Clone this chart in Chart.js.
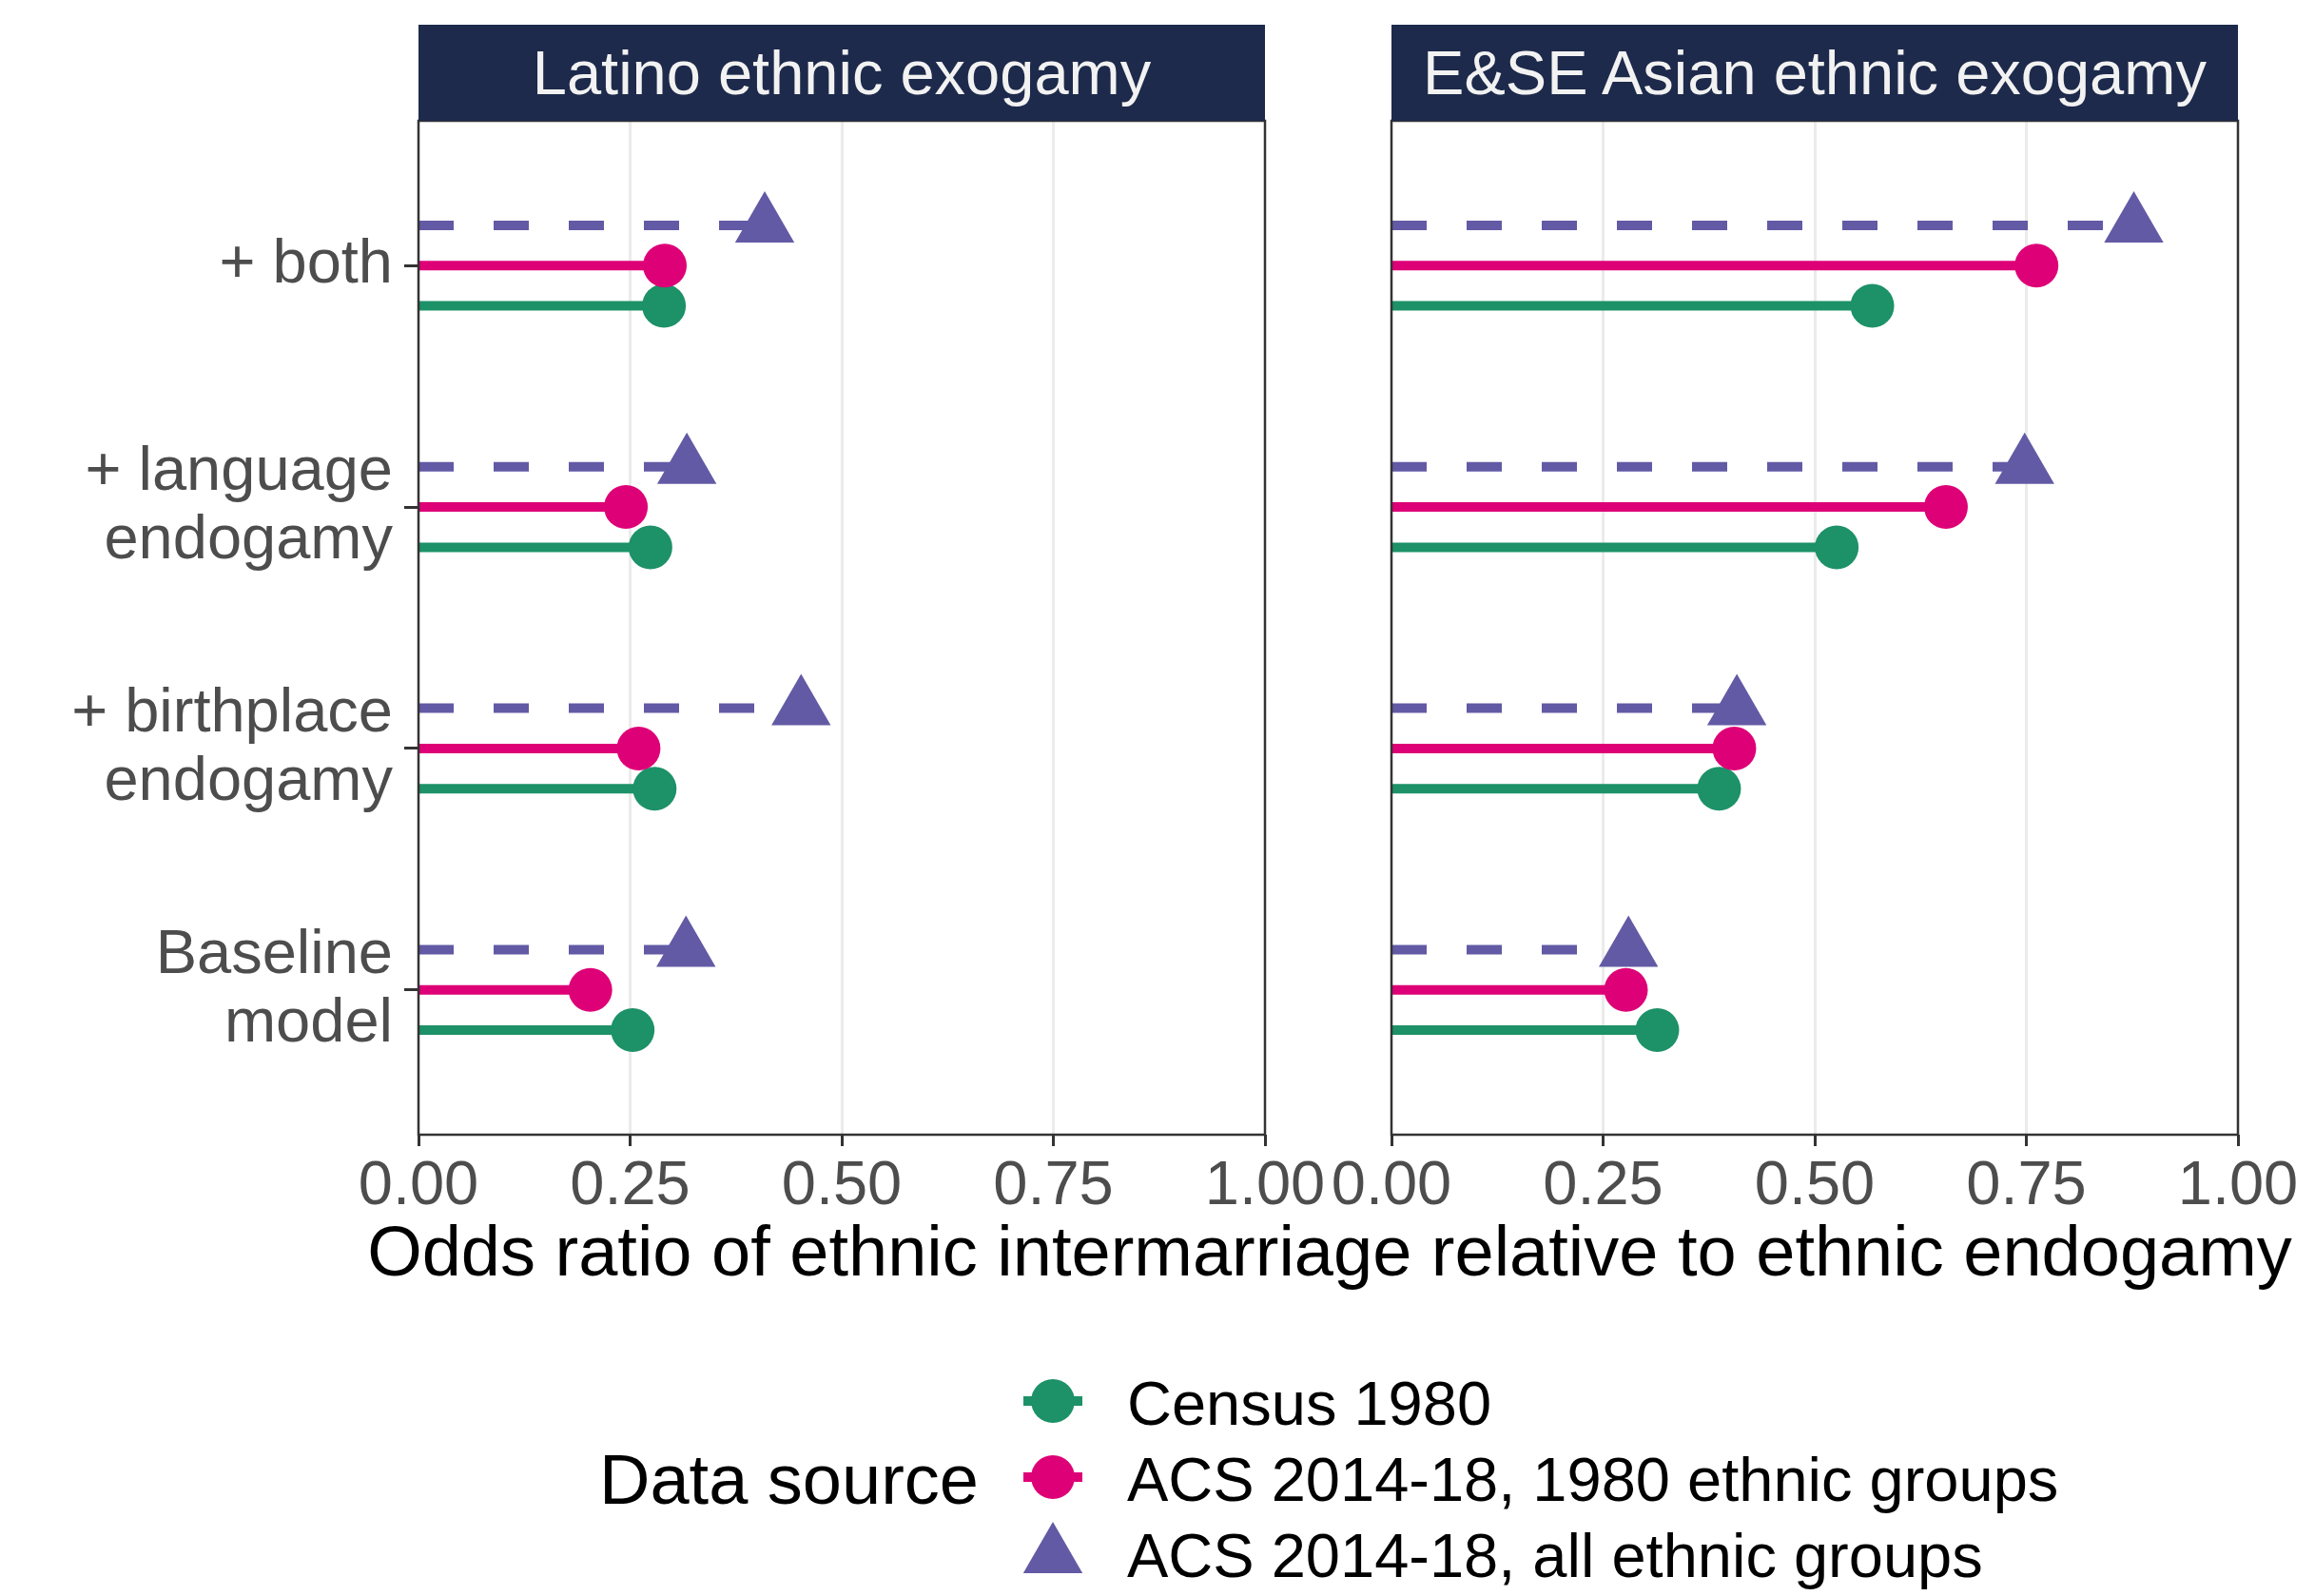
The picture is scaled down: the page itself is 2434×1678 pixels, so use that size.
<!DOCTYPE html>
<html>
<head>
<meta charset="utf-8">
<script src="https://cdn.jsdelivr.net/npm/chart.js@4.4.1/dist/chart.umd.min.js"></script>
<style>
  html, body { margin:0; padding:0; background:#ffffff; }
  body { width:2434px; height:1678px; position:relative; overflow:hidden; font-family:"Liberation Sans", Arial, Helvetica, sans-serif; }
  canvas { position:absolute; }
  .strip { position:absolute; top:26px; height:101px; background:#1d2a4b; color:#f2f2f2; font-size:65px; line-height:1; text-align:center; }
  .strip span { position:absolute; left:0; right:0; top:18px; }
  .txt { position:absolute; line-height:1; white-space:nowrap; color:#000; }
</style>
</head>
<body>
<canvas id="cA" width="1400" height="1313" style="left:0px;top:0px;width:1400px;height:1313px"></canvas>
<canvas id="cB" width="1035" height="1313" style="left:1388px;top:0px;width:1035px;height:1313px"></canvas>
<div class="strip" id="s0" style="left:440px;width:890px"><span></span></div>
<div class="strip" id="s1" style="left:1463px;width:890px"><span></span></div>
<div class="txt" id="xtitle" style="left:0;width:2796px;top:1279px;font-size:74px;text-align:center;"></div>
<div class="txt" id="lgTitle" style="left:630px;top:1519px;font-size:74px;"></div>
<div id="legend"></div>
<script>
// ---- data ----
const categories = ['Baseline model', '+ birthplace endogamy', '+ language endogamy', '+ both'];
const categoryLabels = [['Baseline', 'model'], ['+ birthplace', 'endogamy'], ['+ language', 'endogamy'], ['+ both']];
const facetTitles = ['Latino ethnic exogamy', 'E&SE Asian ethnic exogamy'];
const seriesNames = ['Census 1980', 'ACS 2014-18, 1980 ethnic groups', 'ACS 2014-18, all ethnic groups'];
// values in category order: Baseline, birthplace, language, both
const latinoCensus1980 = [0.253, 0.279, 0.274, 0.290];
const latinoAcs1980    = [0.203, 0.260, 0.245, 0.291];
const latinoAcsAll     = [0.316, 0.452, 0.317, 0.409];
const asianCensus1980  = [0.314, 0.387, 0.526, 0.568];
const asianAcs1980     = [0.277, 0.405, 0.655, 0.762];
const asianAcsAll      = [0.280, 0.408, 0.748, 0.877];
const xTickValues = [0, 0.25, 0.5, 0.75, 1];
const xTickLabels = ['0.00', '0.25', '0.50', '0.75', '1.00'];
const xAxisTitle = 'Odds ratio of ethnic intermarriage relative to ethnic endogamy';
const legendTitle = 'Data source';

// ---- styles ----
const seriesColors = ['#1d9168', '#de0077', '#625aa5'];
const seriesShapes = ['circle', 'circle', 'triangle'];
const seriesRadius = [23, 23, 36];
const seriesDash = [[], [], [37, 42]];
const dodge = [-1 / 6, 0, 1 / 6];
const FONT = '"Liberation Sans", Arial, Helvetica, sans-serif';

function segData(vals, off) {
  const d = [];
  vals.forEach((v, i) => {
    d.push({x: 0, y: i + 1 + off}, {x: v, y: i + 1 + off}, {x: null, y: null});
  });
  return d;
}

function makeDatasets(seriesVals) {
  return seriesVals.map((vals, s) => ({
    type: 'line',
    label: seriesNames[s],
    data: segData(vals, dodge[s]),
    borderColor: seriesColors[s],
    borderWidth: 10,
    borderDash: seriesDash[s],
    borderCapStyle: 'butt',
    spanGaps: false,
    fill: false,
    tension: 0,
    pointStyle: seriesShapes[s],
    pointRadius: (ctx) => (ctx.raw && ctx.raw.x > 0) ? seriesRadius[s] : 0,
    pointHoverRadius: 0,
    pointBackgroundColor: seriesColors[s],
    pointBorderColor: seriesColors[s],
    pointBorderWidth: 0,
    order: s === 0 ? 2 : (s === 1 ? 1 : 0)
  }));
}

const panelBorder = {
  id: 'panelBorder',
  afterDraw(chart) {
    const {ctx, chartArea: a} = chart;
    ctx.save();
    ctx.strokeStyle = '#333333';
    ctx.lineWidth = 2.5;
    ctx.strokeRect(a.left, a.top, a.right - a.left, a.bottom - a.top);
    ctx.restore();
  }
};

function xScale() {
  return {
    type: 'linear',
    min: 0, max: 1,
    afterBuildTicks: (scale) => { scale.ticks = xTickValues.map(v => ({value: v})); },
    afterFit: (scale) => { scale.height = 120; },
    ticks: {
      callback: (v) => xTickLabels[xTickValues.indexOf(v)],
      color: '#4d4d4d',
      font: {family: FONT, size: 65},
      padding: 4,
      maxRotation: 0, autoSkip: false
    },
    grid: {
      color: (ctx) => (ctx.tick && (ctx.tick.value === 0 || ctx.tick.value === 1)) ? 'rgba(0,0,0,0)' : '#ebebeb',
      lineWidth: 3,
      drawTicks: true,
      tickLength: 12,
      tickColor: '#333333',
      tickWidth: 3
    },
    border: {display: false}
  };
}

function yScale(showLabels) {
  return {
    type: 'linear',
    min: 0.4, max: 4.6,
    display: showLabels,
    afterBuildTicks: (scale) => { scale.ticks = categories.map((c, i) => ({value: i + 1})); },
    afterFit: (scale) => { if (showLabels) scale.width = 440; },
    ticks: {
      callback: (v) => categoryLabels[v - 1],
      color: '#4d4d4d',
      font: {family: FONT, size: 65, lineHeight: 1.11},
      padding: 12,
      autoSkip: false
    },
    grid: {
      drawOnChartArea: false,
      drawTicks: true,
      tickLength: 15,
      tickColor: '#333333',
      tickWidth: 3,
      color: 'rgba(0,0,0,0)'
    },
    border: {display: false}
  };
}

function makeChart(id, seriesVals, showY, padLeft) {
  return new Chart(document.getElementById(id), {
    data: {datasets: makeDatasets(seriesVals)},
    options: {
      responsive: false,
      animation: false,
      events: [],
      layout: {padding: {top: 127, right: 70, bottom: 0, left: padLeft}},
      plugins: {legend: {display: false}, tooltip: {enabled: false}, title: {display: false}},
      scales: {x: xScale(), y: yScale(showY)}
    },
    plugins: [panelBorder]
  });
}

makeChart('cA', [latinoCensus1980, latinoAcs1980, latinoAcsAll], true, 0);
makeChart('cB', [asianCensus1980, asianAcs1980, asianAcsAll], false, 75);

// ---- text ----
document.querySelector('#s0 span').textContent = facetTitles[0];
document.querySelector('#s1 span').textContent = facetTitles[1];
document.getElementById('xtitle').textContent = xAxisTitle;
document.getElementById('lgTitle').textContent = legendTitle;

// ---- legend ----
const legend = document.getElementById('legend');
const rowTops = [1443, 1523, 1603];
const keyCenters = [1473, 1553, 1636];
seriesNames.forEach((name, s) => {
  const t = document.createElement('div');
  t.className = 'txt';
  t.style.left = '1185px';
  t.style.top = rowTops[s] + 'px';
  t.style.fontSize = '65px';
  t.textContent = name;
  legend.appendChild(t);
  const svgNS = 'http://www.w3.org/2000/svg';
  const svg = document.createElementNS(svgNS, 'svg');
  svg.setAttribute('width', '80');
  svg.setAttribute('height', '80');
  svg.style.position = 'absolute';
  svg.style.left = (1107 - 40) + 'px';
  svg.style.top = (keyCenters[s] - 40) + 'px';
  if (seriesShapes[s] === 'circle') {
    const ln = document.createElementNS(svgNS, 'line');
    ln.setAttribute('x1', '9'); ln.setAttribute('x2', '71');
    ln.setAttribute('y1', '40'); ln.setAttribute('y2', '40');
    ln.setAttribute('stroke', seriesColors[s]); ln.setAttribute('stroke-width', '10');
    svg.appendChild(ln);
    const c = document.createElementNS(svgNS, 'circle');
    c.setAttribute('cx', '40'); c.setAttribute('cy', '40'); c.setAttribute('r', '23');
    c.setAttribute('fill', seriesColors[s]);
    svg.appendChild(c);
  } else {
    const r = 36;
    const p = document.createElementNS(svgNS, 'polygon');
    const pts = [[40, 40 - r], [40 + r * Math.sin(Math.PI * 2 / 3), 40 + r / 2], [40 - r * Math.sin(Math.PI * 2 / 3), 40 + r / 2]];
    p.setAttribute('points', pts.map(q => q.join(',')).join(' '));
    p.setAttribute('fill', seriesColors[s]);
    svg.appendChild(p);
  }
  legend.appendChild(svg);
});
</script>
</body>
</html>
